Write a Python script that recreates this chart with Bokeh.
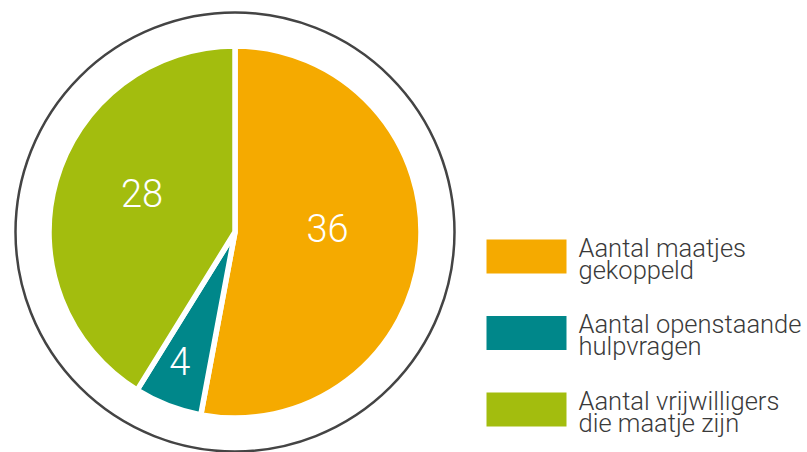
import math
from bokeh.plotting import figure
from bokeh.models import Range1d, ColumnDataSource
from bokeh.core.properties import value
from bokeh.embed import file_html
from bokeh.resources import INLINE

# ---- data ----
categories = ["Aantal maatjes\ngekoppeld", "Aantal openstaande\nhulpvragen", "Aantal vrijwilligers\ndie maatje zijn"]
values = [36, 4, 28]
colors = ["#F5AA00", "#00878A", "#A3BD0E"]

# ---- layout (pixel-like data units; y measured upward from bottom) ----
W, H = 807, 452
cx, cy = 234.5, H - 231.5
R = 186
R_outer = 219.5
label_r = [0.5, 0.82, 0.52]

p = figure(width=W, height=H, output_backend="svg", toolbar_location=None,
           x_range=Range1d(0, W), y_range=Range1d(0, H), min_border=0)
p.axis.visible = False
p.grid.visible = False
p.outline_line_color = None
p.background_fill_color = "white"

total = sum(values)
starts, ends, lx, ly = [], [], [], []
cum = 0
for i, v in enumerate(values):
    a0 = math.pi / 2 - 2 * math.pi * cum / total
    cum += v
    a1 = math.pi / 2 - 2 * math.pi * cum / total
    starts.append(a0)
    ends.append(a1)
    mid = (a0 + a1) / 2
    lx.append(cx + label_r[i] * R * math.cos(mid))
    ly.append(cy + label_r[i] * R * math.sin(mid))

src = ColumnDataSource(dict(start=starts, end=ends, color=colors,
                            lx=lx, ly=ly, txt=[str(v) for v in values]))

# outer ring
p.circle(x=[cx], y=[cy], radius=R_outer, fill_color=None, line_color="#444444", line_width=2.5)

p.wedge(x=cx, y=cy, radius=R, start_angle="start", end_angle="end", direction="clock",
        fill_color="color", line_color="white", line_width=5.5, source=src)

p.text(x="lx", y="ly", text="txt", source=src, text_color="white",
       text_font=value("Roboto Light"), text_font_size="38px",
       text_align="center", text_baseline="alphabetic", y_offset=-13)

# legend
leg_x = 526
leg_y0 = H - 256
leg_dy = 76.5
rx, ry, ty1, t1, ty2, t2 = [], [], [], [], [], []
for i, c in enumerate(categories):
    yy = leg_y0 - i * leg_dy
    rx.append(leg_x)
    ry.append(yy)
    l1, l2 = c.split("\n")
    t1.append(l1)
    t2.append(l2)
    ty1.append(yy + 9)
    ty2.append(yy + 9 - 22)

p.rect(x=rx, y=ry, width=80, height=34, fill_color=colors, line_color=None)
p.text(x=[578] * 3, y=ty1, text=t1, text_color="#3a3a3a", text_font=value("Roboto Light"),
       text_font_size="25.5px", text_baseline="alphabetic", text_align="left")
p.text(x=[578] * 3, y=ty2, text=t2, text_color="#3a3a3a", text_font=value("Roboto Light"),
       text_font_size="25.5px", text_baseline="alphabetic", text_align="left")

open("out.html", "w").write(file_html(p, INLINE))
